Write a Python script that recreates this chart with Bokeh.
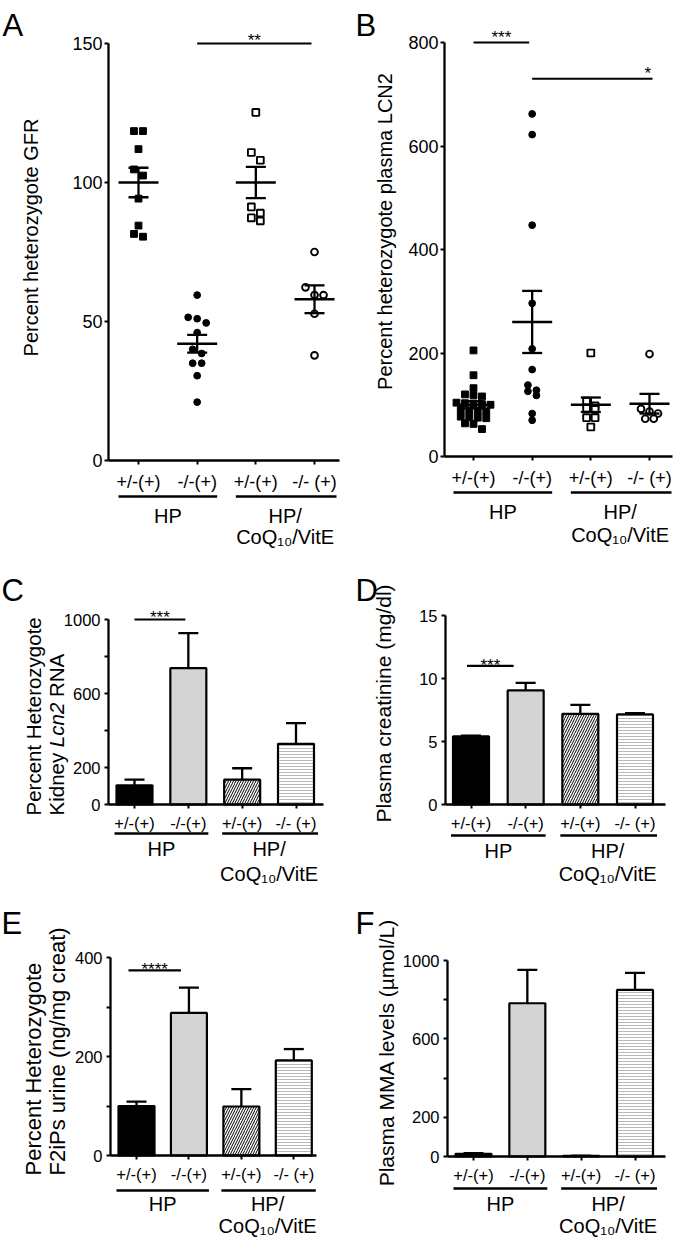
import math
from bokeh.plotting import figure
from bokeh.models import FixedTicker, Range1d
from bokeh.layouts import column, row
from bokeh.core.properties import value
from bokeh.embed import file_html
from bokeh.resources import INLINE

FONT = "Liberation Sans"

# ---------------- data ----------------
genotype_labels = ["+/-(+)", "-/-(+)", "+/-(+)", "-/- (+)"]
diet_labels = ["HP", "HP/", "CoQ₁₀/VitE"]

# A: percent heterozygote GFR, individual animals
gfr_hp_het = [118.5, 118.5, 112.0, 104.7, 102.5, 94.2, 84.5, 81.5, 80.5]
gfr_hp_ko = [59.5, 51.5, 51.0, 49.5, 46.0, 40.0, 38.5, 35.0, 35.0, 30.5, 21.0]
gfr_coq_het = [125.2, 110.8, 108.0, 91.2, 89.0, 87.3, 86.2]
gfr_coq_ko = [75.0, 62.3, 59.5, 59.5, 52.8, 37.8]
gfr_mean = [100, 42, 100, 58]
gfr_sem = [5.3, 3.2, 5.6, 5.0]

# B: percent heterozygote plasma LCN2, individual animals
lcn2_hp_het = [205, 157, 132, 120, 118, 116, 104, 103, 102, 101, 100,
               90, 89, 88, 87, 77, 76, 75, 74, 64, 63, 53]
lcn2_hp_ko = [662, 622, 447, 296, 208, 168, 138, 126, 118, 128, 83, 70]
lcn2_coq_het = [200, 107, 98, 93, 91, 75, 75, 57]
lcn2_coq_ko = [198, 92, 87, 83, 73, 73]
lcn2_mean = [100, 260, 100, 102]
lcn2_sem = [7, 60, 14, 19]

# C: percent heterozygote kidney Lcn2 RNA
kidney_lcn2_mean = [104, 737, 134, 328]
kidney_lcn2_sem = [31, 189, 62, 112]
# D: plasma creatinine (mg/dl)
creat_mean = [5.4, 9.05, 7.2, 7.15]
creat_sem = [0.06, 0.6, 0.7, 0.1]
# E: percent heterozygote F2iPs urine
f2ip_mean = [100, 288, 99, 192]
f2ip_sem = [9, 51, 35, 23]
# F: plasma MMA (umol/L)
mma_mean = [14, 782, 3, 850]
mma_sem = [3, 170, 1, 87]

# ---------------- layout (page pixels) ----------------
GEO = {
    "A": dict(fx=0, fy=0, W=340, H=548, ax=108, y0=460, ytop=43, ymax=150, c1=138, c4=314, xend=339),
    "B": dict(fx=340, fy=0, W=340, H=548, ax=444, y0=456, ytop=42, ymax=800, c1=473, c4=649, xend=672),
    "C": dict(fx=0, fy=548, W=340, H=337, ax=108, y0=804, ytop=619, ymax=1000, c1=134, c4=295.5, xend=323),
    "D": dict(fx=340, fy=548, W=340, H=337, ax=445, y0=804, ytop=615, ymax=15, c1=470.5, c4=634.5, xend=665),
    "E": dict(fx=0, fy=885, W=340, H=353, ax=110, y0=1155, ytop=957, ymax=400, c1=136, c4=293.3, xend=316),
    "F": dict(fx=340, fy=885, W=340, H=353, ax=447, y0=1156, ytop=960, ymax=1000, c1=473, c4=634.5, xend=665),
}
CATS = [1, 2, 3, 4]


def base_fig(g):
    ux = (g["c4"] - g["c1"]) / 3.0
    uy = (g["y0"] - g["ytop"]) / g["ymax"]

    def X(px):
        return 1.0 + (px - g["c1"]) / ux

    def Y(py):
        return (g["y0"] - py) / uy

    p = figure(width=g["W"], height=g["H"],
               x_range=Range1d(X(g["fx"]), X(g["fx"] + g["W"])),
               y_range=Range1d(Y(g["fy"] + g["H"]), Y(g["fy"])),
               output_backend="svg", toolbar_location=None, min_border=0, title=None)
    p.background_fill_color = "white"
    p.border_fill_color = "white"
    p.outline_line_color = None
    p.xgrid.visible = False
    p.ygrid.visible = False
    return p, X, Y, ux, uy


def style_axes(p, g, X, major, minor, tsize, xstand, ystand):
    ya = p.yaxis[0]
    xa = p.xaxis[0]
    ya.fixed_location = X(g["ax"])
    ya.bounds = (0, g["ymax"])
    ya.ticker = FixedTicker(ticks=major, minor_ticks=minor)
    xa.fixed_location = 0
    xa.bounds = (X(g["ax"]), X(g["xend"]))
    xa.ticker = FixedTicker(ticks=CATS)
    xa.major_label_overrides = {c: lab for c, lab in zip(CATS, genotype_labels)}
    for ax in (ya, xa):
        ax.axis_line_width = 2.3
        ax.axis_line_color = "black"
        ax.major_tick_line_width = 2
        ax.major_tick_line_color = "black"
        ax.major_tick_in = 0
        ax.major_tick_out = 4
        ax.major_label_text_font = FONT
        ax.major_label_text_font_size = f"{tsize}px"
        ax.major_label_text_color = "black"
    ya.minor_tick_line_width = 2
    ya.minor_tick_line_color = "black"
    ya.minor_tick_in = 0
    ya.minor_tick_out = 4
    xa.minor_tick_line_color = None
    ya.major_label_standoff = ystand
    xa.major_label_standoff = xstand


def put_text(p, x, y, text, size, align="center", baseline="middle", angle=0.0, style="normal"):
    p.text(x=[x], y=[y], text=[text], text_font=value(FONT), text_font_size=value(f"{size}px"),
           text_align=align, text_baseline=baseline, angle=angle, text_font_style=style,
           text_color="black")


def group_annot(p, g, Y, ux, off_u, off_hp, off_coq):
    yu = Y(g["y0"] + off_u)
    p.segment(x0=[CATS[0] - 20 / ux, CATS[2] - 20 / ux], x1=[CATS[1] + 20 / ux, CATS[3] + 22 / ux],
              y0=[yu, yu], y1=[yu, yu], line_width=2.5, line_color="black")
    put_text(p, (CATS[0] + CATS[1]) / 2, Y(g["y0"] + off_hp), diet_labels[0], 20)
    put_text(p, (CATS[2] + CATS[3]) / 2, Y(g["y0"] + off_hp), diet_labels[1], 20)
    put_text(p, (CATS[2] + CATS[3]) / 2, Y(g["y0"] + off_coq), diet_labels[2], 20)


def letter(p, X, Y, px, py, t):
    put_text(p, X(px), Y(py), t, 31, align="left", baseline="alphabetic")


def sig(p, Y, ux, xa, xb, yv, stars, text_cy, shift_a=0.0, shift_b=0.0, text_x=None, size=17):
    x0 = xa + shift_a / ux
    x1 = xb + shift_b / ux
    p.segment(x0=[x0], x1=[x1], y0=[yv], y1=[yv], line_width=2.2, line_color="black")
    tx = (x0 + x1) / 2 if text_x is None else text_x
    put_text(p, tx, Y(text_cy + 0.58 * size), stars, size, baseline="alphabetic")


def swarm(vals, uy, t, s):
    order = sorted(range(len(vals)), key=lambda i: -vals[i])
    offs = [0.0] * len(vals)
    rows = []
    for i in order:
        ypx = vals[i] * uy
        if rows and rows[-1][0] - ypx < t:
            rows[-1][1].append(i)
        else:
            rows.append([ypx, [i]])
    for _, idx in rows:
        n = len(idx)
        for k, i in enumerate(idx):
            offs[i] = (k - (n - 1) / 2.0) * s
    return offs


def scatter_panel(p, groups, means, sems, ux, uy, t, s):
    styles = [("square", "black", 1.0), ("circle", "black", 1.0),
              ("square", "white", 1.9), ("circle", "white", 1.9)]
    for c, vals, (mk, fill, lw) in zip(CATS, groups, styles):
        offs = swarm(vals, uy, t, s)
        p.scatter(x=[c + o / ux for o in offs], y=vals, marker=mk, size=6.8,
                  fill_color=fill, line_color="black", line_width=lw)
    lo = [m - e for m, e in zip(means, sems)]
    hi = [m + e for m, e in zip(means, sems)]
    p.segment(x0=[c - 20 / ux for c in CATS], x1=[c + 20 / ux for c in CATS], y0=means, y1=means,
              line_width=2.5, line_color="black")
    p.segment(x0=CATS, x1=CATS, y0=lo, y1=hi, line_width=2.3, line_color="black")
    for ys in (lo, hi):
        p.segment(x0=[c - 10 / ux for c in CATS], x1=[c + 10 / ux for c in CATS], y0=ys, y1=ys,
                  line_width=2.3, line_color="black")


def bar_panel(p, means, sems, ux):
    hi = [m + e for m, e in zip(means, sems)]
    p.segment(x0=CATS, x1=CATS, y0=means, y1=hi, line_width=2.3, line_color="black")
    p.segment(x0=[c - 10 / ux for c in CATS], x1=[c + 10 / ux for c in CATS], y0=hi, y1=hi,
              line_width=2.3, line_color="black")
    p.vbar(x=CATS, top=means, bottom=0, width=36 / ux,
           fill_color=["black", "#d4d4d4", "white", "white"], line_color="black", line_width=2.2,
           hatch_pattern=[" ", " ", "/", "-"], hatch_color=["black", "black", "black", "#b8b8b8"],
           hatch_scale=[5, 5, 5, 3], hatch_weight=1)


# ---------------- A ----------------
g = GEO["A"]
pA, X, Y, ux, uy = base_fig(g)
style_axes(pA, g, X, [0, 50, 100, 150], [], 18, 7, 2)
scatter_panel(pA, [gfr_hp_het, gfr_hp_ko, gfr_coq_het, gfr_coq_ko], gfr_mean, gfr_sem, ux, uy, 8, 9)
group_annot(pA, g, Y, ux, 36, 55, 76)
put_text(pA, X(30), Y(237), "Percent heterozygote GFR", 20, angle=math.pi / 2)
letter(pA, X, Y, 2, 25, "A")
sig(pA, Y, ux, 2, 4, 150, "**", 30, shift_b=-3)

# ---------------- B ----------------
g = GEO["B"]
pB, X, Y, ux, uy = base_fig(g)
style_axes(pB, g, X, [0, 200, 400, 600, 800], [], 18, 7, 2)
scatter_panel(pB, [lcn2_hp_het, lcn2_hp_ko, lcn2_coq_het, lcn2_coq_ko], lcn2_mean, lcn2_sem, ux, uy, 6, 8.5)
group_annot(pB, g, Y, ux, 36, 55, 78)
put_text(pB, X(384), Y(231), "Percent heterozygote plasma LCN2", 20, angle=math.pi / 2)
letter(pB, X, Y, 355, 25, "B")
sig(pB, Y, ux, 1, 2, 800, "***", 27, shift_b=-3)
sig(pB, Y, ux, 2, 4, 730, "*", 63, shift_b=3, text_x=3.97)

# ---------------- C ----------------
g = GEO["C"]
pC, X, Y, ux, uy = base_fig(g)
style_axes(pC, g, X, [0, 200, 600, 1000], [400, 800], 16.5, 5, 4)
bar_panel(pC, kidney_lcn2_mean, kidney_lcn2_sem, ux)
group_annot(pC, g, Y, ux, 29, 44, 69)
fs = 20.5
yb = 815
put_text(pC, X(33), Y(yb), "Percent Heterozygote", fs, align="left", angle=math.pi / 2)
put_text(pC, X(56), Y(yb), "Kidney", fs, align="left", angle=math.pi / 2)
put_text(pC, X(56), Y(yb - 3.335 * fs), "Lcn2", fs, align="left", angle=math.pi / 2, style="italic")
put_text(pC, X(56), Y(yb - (3.335 + 2.168 + 0.278) * fs), "RNA", fs, align="left", angle=math.pi / 2)
letter(pC, X, Y, 1, 590, "C")
sig(pC, Y, ux, 1, 2, 1000, "***", 607, shift_b=-3)

# ---------------- D ----------------
g = GEO["D"]
pD, X, Y, ux, uy = base_fig(g)
style_axes(pD, g, X, [0, 5, 10, 15], [], 16.5, 5, 4)
bar_panel(pD, creat_mean, creat_sem, ux)
group_annot(pD, g, Y, ux, 31, 46, 69)
put_text(pD, X(383), Y(703), "Plasma creatinine (mg/dl)", 21, angle=math.pi / 2)
letter(pD, X, Y, 355, 590, "D")
sig(pD, Y, ux, 1, 2, 11, "***", 655, shift_a=-4, shift_b=-12)

# ---------------- E ----------------
g = GEO["E"]
pE, X, Y, ux, uy = base_fig(g)
style_axes(pE, g, X, [0, 200, 400], [100, 300], 16.5, 5, 4)
bar_panel(pE, f2ip_mean, f2ip_sem, ux)
group_annot(pE, g, Y, ux, 35, 48, 70)
put_text(pE, X(33), Y(1175), "Percent Heterozygote", 22, align="left", angle=math.pi / 2)
put_text(pE, X(57), Y(1175), "F2iPs urine (ng/mg creat)", 22, align="left", angle=math.pi / 2)
letter(pE, X, Y, 1, 923, "E")
sig(pE, Y, ux, 1, 2, 374, "****", 959, shift_a=-8, shift_b=-8)

# ---------------- F ----------------
g = GEO["F"]
pF, X, Y, ux, uy = base_fig(g)
style_axes(pF, g, X, [0, 200, 600, 1000], [400, 800], 16.5, 5, 4)
bar_panel(pF, mma_mean, mma_sem, ux)
group_annot(pF, g, Y, ux, 32, 47, 69)
put_text(pF, X(386), Y(1052), "Plasma MMA levels (µmol/L)", 21, angle=math.pi / 2)
letter(pF, X, Y, 355, 923, "F")

layout = column(row(pA, pB), row(pC, pD), row(pE, pF))
open("out.html", "w").write(file_html(layout, INLINE))
